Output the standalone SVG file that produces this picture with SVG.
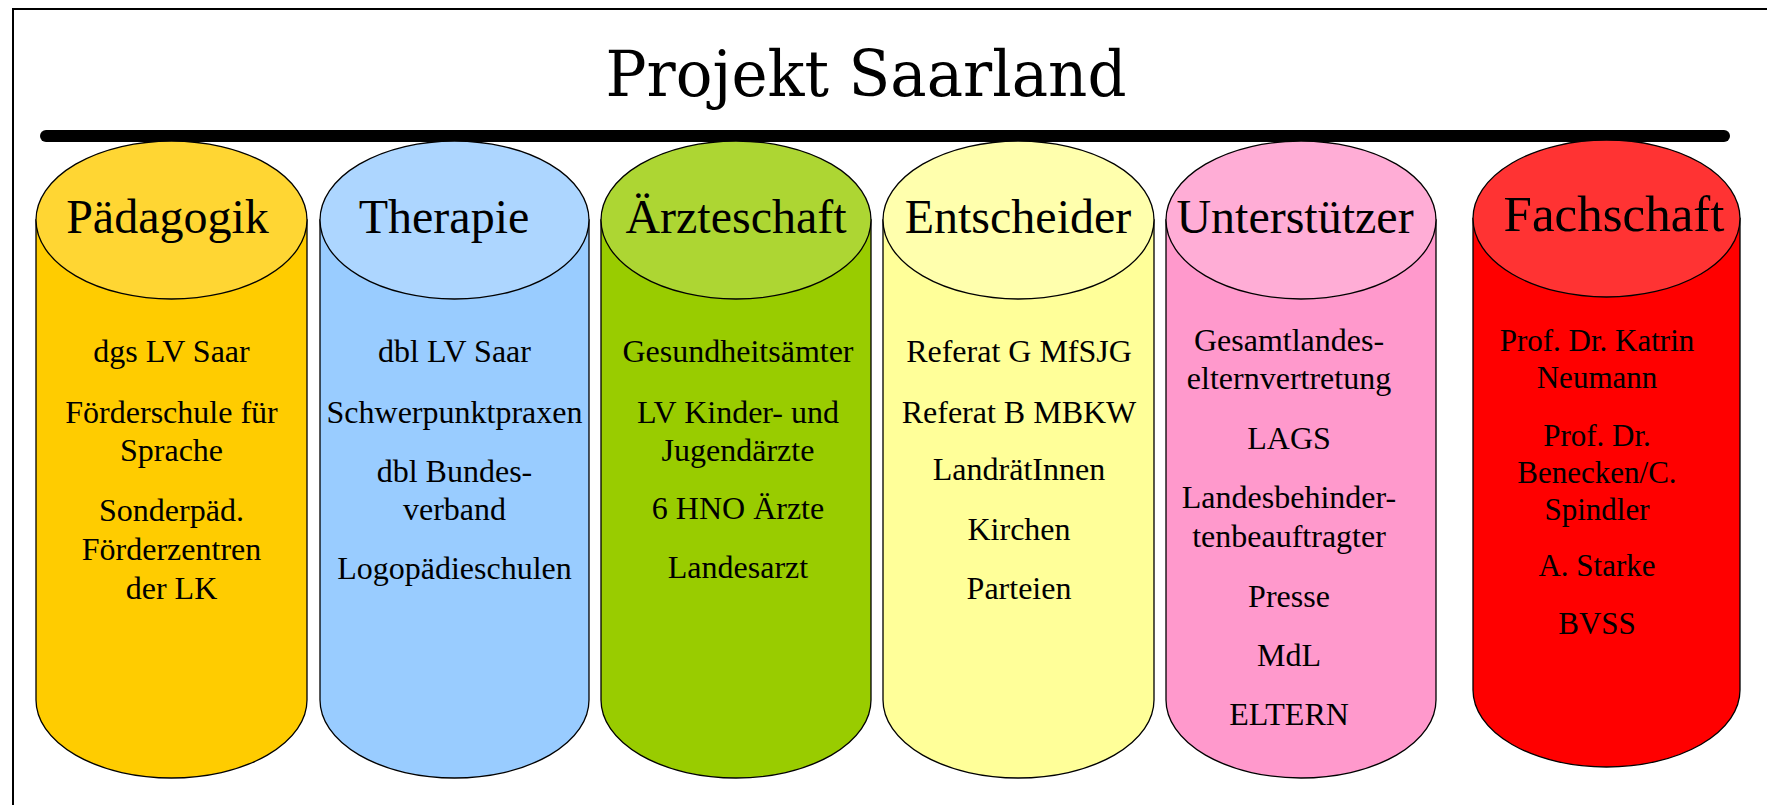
<svg xmlns="http://www.w3.org/2000/svg" width="1767" height="805" viewBox="0 0 1767 805">
<style>
.frame{fill:none;stroke:#000;stroke-width:2}
.body,.top{stroke:#000;stroke-width:1.3}
.h{font-family:"Liberation Serif","Times New Roman",serif;font-size:48px;text-anchor:middle;fill:#000}
.t{font-family:"Liberation Serif","Times New Roman",serif;font-size:32px;text-anchor:middle;fill:#000}
.title{font-family:"DejaVu Serif",serif;font-size:63px;text-anchor:middle;fill:#000}
</style>
<rect width="1767" height="805" fill="#fff"/>
<rect class="frame" x="13" y="9" width="1800" height="900"/>
<text class="title" x="866" y="96" textLength="521" lengthAdjust="spacingAndGlyphs">Projekt Saarland</text>
<g id="connectors">
<line x1="46" y1="136" x2="1724" y2="136" stroke="#000" stroke-width="12" stroke-linecap="round"/>
</g>
<g id="paedagogik">
<path class="body" fill="#FFCC00" d="M36,220 V700 A135.5,78 0 0 0 307,700 V220 Z"/>
<ellipse class="top" fill="#FFD633" cx="171.5" cy="220" rx="135.5" ry="79"/>
<text class="h" x="167.5" y="233">Pädagogik</text>
<text class="t" x="171.5" y="362">dgs LV Saar</text>
<text class="t" x="171.5" y="423">Förderschule für</text>
<text class="t" x="171.5" y="461">Sprache</text>
<text class="t" x="171.5" y="521">Sonderpäd.</text>
<text class="t" x="171.5" y="560">Förderzentren</text>
<text class="t" x="171.5" y="599">der LK</text>
</g>
<g id="therapie">
<path class="body" fill="#99CCFF" d="M320,220 V700 A134.5,78 0 0 0 589,700 V220 Z"/>
<ellipse class="top" fill="#ADD6FF" cx="454.5" cy="220" rx="134.5" ry="79"/>
<text class="h" x="444" y="233">Therapie</text>
<text class="t" x="454.5" y="362">dbl LV Saar</text>
<text class="t" x="454.5" y="423">Schwerpunktpraxen</text>
<text class="t" x="454.5" y="482">dbl Bundes-</text>
<text class="t" x="454.5" y="520">verband</text>
<text class="t" x="454.5" y="579">Logopädieschulen</text>
</g>
<g id="aerzteschaft">
<path class="body" fill="#99CC00" d="M601,220 V700 A135,78 0 0 0 871,700 V220 Z"/>
<ellipse class="top" fill="#ADD633" cx="736" cy="220" rx="135" ry="79"/>
<text class="h" x="736" y="233">Ärzteschaft</text>
<text class="t" x="738" y="362">Gesundheitsämter</text>
<text class="t" x="738" y="423">LV Kinder- und</text>
<text class="t" x="738" y="461">Jugendärzte</text>
<text class="t" x="738" y="519">6 HNO Ärzte</text>
<text class="t" x="738" y="578">Landesarzt</text>
</g>
<g id="entscheider">
<path class="body" fill="#FFFF99" d="M883,220 V700 A135.5,78 0 0 0 1154,700 V220 Z"/>
<ellipse class="top" fill="#FFFFAD" cx="1018.5" cy="220" rx="135.5" ry="79"/>
<text class="h" x="1018" y="233">Entscheider</text>
<text class="t" x="1019" y="362">Referat G MfSJG</text>
<text class="t" x="1019" y="423">Referat B MBKW</text>
<text class="t" x="1019" y="480">LandrätInnen</text>
<text class="t" x="1019" y="540">Kirchen</text>
<text class="t" x="1019" y="599">Parteien</text>
</g>
<g id="unterstuetzer">
<path class="body" fill="#FF99CC" d="M1166,220 V700 A135,78 0 0 0 1436,700 V220 Z"/>
<ellipse class="top" fill="#FFADD6" cx="1301" cy="220" rx="135" ry="79"/>
<text class="h" x="1295" y="233">Unterstützer</text>
<text class="t" x="1289" y="351">Gesamtlandes-</text>
<text class="t" x="1289" y="389">elternvertretung</text>
<text class="t" x="1289" y="449">LAGS</text>
<text class="t" x="1289" y="508">Landesbehinder-</text>
<text class="t" x="1289" y="547">tenbeauftragter</text>
<text class="t" x="1289" y="607">Presse</text>
<text class="t" x="1289" y="666">MdL</text>
<text class="t" x="1289" y="725">ELTERN</text>
</g>
<g id="fachschaft">
<path class="body" fill="#FF0000" d="M1473,218.5 V690 A133.5,77 0 0 0 1740,690 V218.5 Z"/>
<ellipse class="top" fill="#FF3333" cx="1606.5" cy="218.5" rx="133.5" ry="78.5"/>
<text class="h" x="1614" y="231" style="font-size:51px">Fachschaft</text>
<text class="t" x="1597" y="351" style="font-size:31px">Prof. Dr. Katrin</text>
<text class="t" x="1597" y="388" style="font-size:31px">Neumann</text>
<text class="t" x="1597" y="446" style="font-size:31px">Prof. Dr.</text>
<text class="t" x="1597" y="483" style="font-size:31px">Benecken/C.</text>
<text class="t" x="1597" y="520" style="font-size:31px">Spindler</text>
<text class="t" x="1597" y="576" style="font-size:31px">A. Starke</text>
<text class="t" x="1597" y="634" style="font-size:31px">BVSS</text>
</g>
</svg>
